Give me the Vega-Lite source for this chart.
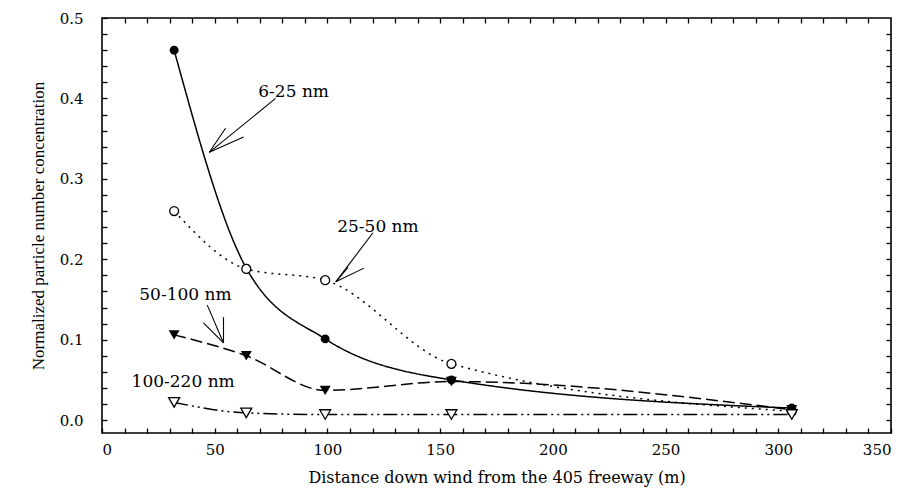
{
  "$schema": "https://vega.github.io/schema/vega-lite/v6.json",
  "width": 789,
  "height": 415,
  "autosize": {"type": "none"},
  "padding": {"left": 102, "top": 18, "right": 33, "bottom": 65},
  "background": "white",
  "config": {
    "view": {"stroke": "black", "strokeWidth": 1.6},
    "axis": {
      "labelFont": "DejaVu Serif",
      "labelFontSize": 15,
      "labelColor": "black",
      "titleFont": "DejaVu Serif",
      "titleFontWeight": "normal",
      "titleColor": "black",
      "tickColor": "black",
      "tickWidth": 1.3,
      "grid": false
    }
  },
  "datasets": {
    "series": [
      {"series": "6-25 nm", "x": 32, "y": 0.46},
      {"series": "6-25 nm", "x": 64, "y": 0.189},
      {"series": "6-25 nm", "x": 99, "y": 0.101},
      {"series": "6-25 nm", "x": 155, "y": 0.05},
      {"series": "6-25 nm", "x": 306, "y": 0.015},
      {"series": "25-50 nm", "x": 32, "y": 0.26},
      {"series": "25-50 nm", "x": 64, "y": 0.188},
      {"series": "25-50 nm", "x": 99, "y": 0.174},
      {"series": "25-50 nm", "x": 155, "y": 0.07},
      {"series": "25-50 nm", "x": 306, "y": 0.011},
      {"series": "50-100 nm", "x": 32, "y": 0.106},
      {"series": "50-100 nm", "x": 64, "y": 0.08},
      {"series": "50-100 nm", "x": 99, "y": 0.037},
      {"series": "50-100 nm", "x": 155, "y": 0.048},
      {"series": "50-100 nm", "x": 306, "y": 0.013},
      {"series": "100-220 nm", "x": 32, "y": 0.022},
      {"series": "100-220 nm", "x": 64, "y": 0.009},
      {"series": "100-220 nm", "x": 99, "y": 0.007},
      {"series": "100-220 nm", "x": 155, "y": 0.007},
      {"series": "100-220 nm", "x": 306, "y": 0.007}
    ],
    "arrows": [
      {"x": 77.0, "y": 0.400, "x2": 47.6, "y2": 0.333},
      {"x": 54.8, "y": 0.363, "x2": 47.6, "y2": 0.333},
      {"x": 62.8, "y": 0.352, "x2": 47.6, "y2": 0.333},
      {"x": 120.2, "y": 0.233, "x2": 103.7, "y2": 0.172},
      {"x": 109.1, "y": 0.190, "x2": 103.7, "y2": 0.172},
      {"x": 116.2, "y": 0.189, "x2": 103.7, "y2": 0.172},
      {"x": 46.7, "y": 0.143, "x2": 53.9, "y2": 0.096},
      {"x": 53.9, "y": 0.128, "x2": 53.9, "y2": 0.096},
      {"x": 45.0, "y": 0.121, "x2": 53.9, "y2": 0.096}
    ],
    "labels": [
      {"x": 85, "y": 0.408, "text": "6-25 nm"},
      {"x": 122.4, "y": 0.240, "text": "25-50 nm"},
      {"x": 37, "y": 0.155, "text": "50-100 nm"},
      {"x": 36, "y": 0.047, "text": "100-220 nm"}
    ]
  },
  "layer": [
    {
      "data": {"name": "series"},
      "mark": {"type": "line", "interpolate": "monotone", "color": "black", "strokeWidth": 1.5},
      "encoding": {
        "x": {
          "field": "x", "type": "quantitative",
          "scale": {"domain": [0, 350], "nice": false, "zero": false},
          "axis": {
            "orient": "bottom",
            "values": [0, 10, 20, 30, 40, 50, 60, 70, 80, 90, 100, 110, 120, 130, 140, 150, 160, 170, 180, 190, 200, 210, 220, 230, 240, 250, 260, 270, 280, 290, 300, 310, 320, 330, 340, 350],
            "labelExpr": "datum.value % 50 === 0 ? datum.label : ''",
            "ticks": true, "tickSize": -5, "domain": false, "labelPadding": 14,
            "title": "Distance down wind from the 405 freeway (m)",
            "titleFontSize": 16, "titlePadding": 12
          }
        },
        "y": {
          "field": "y", "type": "quantitative",
          "scale": {"domain": [-0.016, 0.5], "nice": false, "zero": false},
          "axis": {
            "orient": "left",
            "values": [0, 0.02, 0.04, 0.06, 0.08, 0.1, 0.12, 0.14, 0.16, 0.18, 0.2, 0.22, 0.24, 0.26, 0.28, 0.3, 0.32, 0.34, 0.36, 0.38, 0.4, 0.42, 0.44, 0.46, 0.48, 0.5],
            "labelExpr": "abs(datum.value * 10 - round(datum.value * 10)) < 0.001 ? format(datum.value, '.1f') : ''",
            "ticks": true, "tickSize": -5, "domain": false, "labelPadding": 24,
            "title": "Normalized particle number concentration",
            "titleFont": "Liberation Serif", "titleFontSize": 17, "titlePadding": 12
          }
        },
        "strokeDash": {
          "field": "series", "type": "nominal",
          "scale": {
            "domain": ["6-25 nm", "25-50 nm", "50-100 nm", "100-220 nm"],
            "range": [[1, 0], [2, 5], [12, 5], [14, 4, 2, 4, 2, 4]]
          },
          "legend": null
        }
      }
    },
    {
      "encoding": {
        "x": {
          "field": "x", "type": "quantitative",
          "axis": {
            "orient": "top",
            "values": [10, 20, 30, 40, 50, 60, 70, 80, 90, 100, 110, 120, 130, 140, 150, 160, 170, 180, 190, 200, 210, 220, 230, 240, 250, 260, 270, 280, 290, 300, 310, 320, 330, 340],
            "labels": false, "title": null, "tickSize": -5, "domain": false
          }
        },
        "y": {
          "field": "y", "type": "quantitative",
          "axis": {
            "orient": "right",
            "values": [0, 0.02, 0.04, 0.06, 0.08, 0.1, 0.12, 0.14, 0.16, 0.18, 0.2, 0.22, 0.24, 0.26, 0.28, 0.3, 0.32, 0.34, 0.36, 0.38, 0.4, 0.42, 0.44, 0.46, 0.48],
            "labels": false, "title": null, "tickSize": -5, "domain": false
          }
        }
      },
      "layer": [
        {
          "data": {"name": "series"},
          "transform": [{"filter": "datum.series === '6-25 nm'"}],
          "mark": {"type": "point", "shape": "circle", "filled": true, "color": "black", "size": 80, "opacity": 1}
        },
        {
          "data": {"name": "series"},
          "transform": [{"filter": "datum.series === '25-50 nm'"}],
          "mark": {"type": "point", "shape": "circle", "filled": true, "fill": "white", "stroke": "black", "strokeWidth": 1.3, "size": 80, "opacity": 1}
        },
        {
          "data": {"name": "series"},
          "transform": [{"filter": "datum.series === '50-100 nm'"}],
          "mark": {"type": "point", "shape": "triangle-down", "filled": true, "color": "black", "size": 120, "opacity": 1}
        },
        {
          "data": {"name": "series"},
          "transform": [{"filter": "datum.series === '100-220 nm'"}],
          "mark": {"type": "point", "shape": "triangle-down", "filled": true, "fill": "white", "stroke": "black", "strokeWidth": 1.3, "size": 120, "opacity": 1}
        },
        {
          "data": {"name": "arrows"},
          "mark": {"type": "rule", "color": "black", "strokeWidth": 1.1},
          "encoding": {
            "x2": {"field": "x2"},
            "y2": {"field": "y2"}
          }
        },
        {
          "data": {"name": "labels"},
          "mark": {"type": "text", "font": "DejaVu Serif", "fontSize": 17, "color": "black", "align": "center", "baseline": "middle"},
          "encoding": {
            "text": {"field": "text"}
          }
        }
      ]
    }
  ],
  "resolve": {"axis": {"x": "independent", "y": "independent"}}
}
